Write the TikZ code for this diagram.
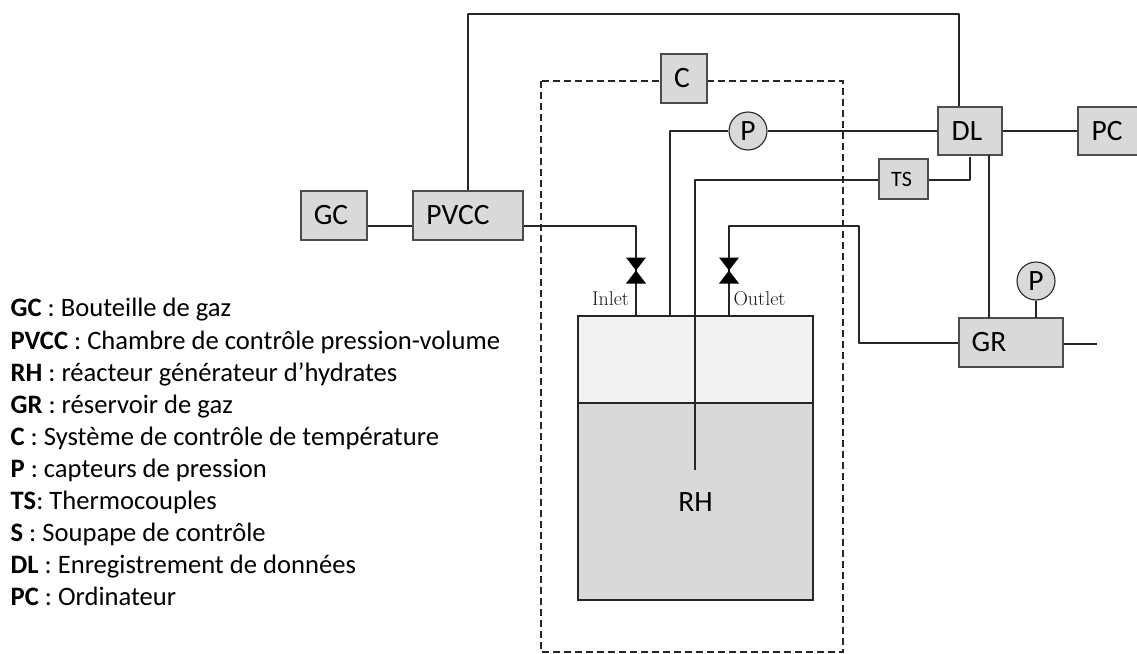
\documentclass[tikz,border=0pt]{standalone}
\usepackage{fontspec}
\setsansfont{Carlito}
\begin{document}
\begin{tikzpicture}[x=1pt,y=-1pt,
  line width=1.3pt,
  wire/.style={draw=black!85,line width=1.3pt,line join=round},
  box/.style={draw=black!70,fill=boxgray,line width=1.1pt,inner sep=0pt,font=\sffamily\fontsize{29.5}{31}\selectfont,text=black},
  gauge/.style={circle,draw=black!85,fill=boxgray,line width=1.1pt,inner sep=0pt,minimum size=38pt,font=\sffamily\fontsize{29.5}{31}\selectfont},
  legend/.style={anchor=base west,inner sep=0pt,font=\sffamily\fontsize{26.6}{28}\selectfont},
  port/.style={inner sep=0pt,font=\rmfamily\fontsize{20}{22}\selectfont,text=black!90},
  valvefill/.style={fill=black,draw=none},
  dashline/.style={draw=black!85,line width=1.1pt,dash pattern=on 7pt off 4pt}]
\definecolor{boxgray}{HTML}{D9D9D9}
\definecolor{gasgray}{HTML}{F2F2F2}
\useasboundingbox (0,0) rectangle (1137,653);
% temperature enclosure
\draw[dashline] (541,81) rectangle (843,652);
% reactor
\node[draw=black!85,fill=gasgray,line width=1.1pt,minimum width=235pt,minimum height=87pt,inner sep=0pt] (gas) at (695.5,359.5) {};
\node[draw=black!85,fill=boxgray,line width=1.1pt,minimum width=235pt,minimum height=197pt,inner sep=0pt] (liq) at (695.5,501.5) {};
\node[inner sep=0pt,font=\sffamily\fontsize{29.5}{31}\selectfont] (rh) at (695.5,502) {RH};
% boxes
\node[box,minimum width=66pt,minimum height=49pt] (gc) at (334,215.5) {GC\rule{6pt}{0pt}};
\node[box,minimum width=110pt,minimum height=49pt] (pvcc) at (468,215.5) {PVCC\rule{20pt}{0pt}};
\node[box,minimum width=46pt,minimum height=49pt] (c) at (684,78.5) {C\rule{4pt}{0pt}};
\node[box,minimum width=64pt,minimum height=48pt] (dl) at (970,131) {DL\rule{6pt}{0pt}};
\node[box,minimum width=62pt,minimum height=48pt] (pc) at (1109,131) {PC\rule{4pt}{0pt}};
\node[box,minimum width=49pt,minimum height=40pt,font=\sffamily\fontsize{22}{24}\selectfont] (ts) at (903.5,179) {TS\rule{4pt}{0pt}};
\node[box,minimum width=104pt,minimum height=49pt] (gr) at (1011,342.5) {GR\rule{44pt}{0pt}};
\node[gauge] (p1) at (748,131) {P};
\node[gauge] (p2) at (1036,281) {P};
% named bends
\coordinate (topr) at (959,14);
\coordinate (inletc) at (636,226);
\coordinate (outletc) at (729,226);
\coordinate (bendo) at (859,226);
\coordinate (bendg) at (859,343);
\coordinate (pbend) at (670,131);
\coordinate (tsbend) at (695,180);
\coordinate (tsend) at (695,470);
\coordinate (dlts) at (970,180);
\coordinate (grout) at (1097,344);
\coordinate (dlgr) at (989,155);
\coordinate (grdl) at (989,318);
\coordinate (grp) at (1036,318);
\coordinate (valvein) at (636,270.5);
\coordinate (valveout) at (729,270.5);
% connectors
\draw[wire] (gc.east |- inletc) -- (pvcc.west |- inletc);
\draw[wire] (pvcc.north) |- (topr) -- (topr |- dl.north);
\draw[wire] (pvcc.east |- inletc) -- (inletc) -- (inletc |- gas.north);
\draw[wire] (dl.west) -- (p1.east);
\draw[wire] (p1.west) -- (pbend) -- (pbend |- gas.north);
\draw[wire] (dl.east) -- (pc.west);
\draw[wire] (ts.west |- tsbend) -- (tsbend) -- (tsend);
\draw[wire] (ts.east |- dlts) -- (dlts) -- ++(0,-23);
\draw[wire] (dlgr) -- (grdl);
\draw[wire] (p2.south) -- (grp);
\draw[wire] (outletc |- gas.north) -- (outletc) -- (bendo) -- (bendg) -- (gr.west |- bendg);
\draw[wire] (gr.east |- grout) -- (grout);
% valves
\fill[valvefill] (valvein) -- ++(-10,-13) -- ++(20,0) -- cycle;
\fill[valvefill] (valvein) -- ++(-10,13) -- ++(20,0) -- cycle;
\fill[valvefill] (valveout) -- ++(-10,-13) -- ++(20,0) -- cycle;
\fill[valvefill] (valveout) -- ++(-10,13) -- ++(20,0) -- cycle;
\node[port] (inlet) at (610.5,299) {Inlet};
\node[port] (outlet) at (759.5,299) {Outlet};
% legend
\node[legend] (l1) at (10,316.7) {\textbf{GC} : Bouteille de gaz};
\node[legend] (l2) at (10,349) {\textbf{PVCC} : Chambre de contrôle pression-volume};
\node[legend] (l3) at (10,381) {\textbf{RH} : réacteur générateur d’hydrates};
\node[legend] (l4) at (10,413) {\textbf{GR} : réservoir de gaz};
\node[legend] (l5) at (10,445) {\textbf{C} : Système de contrôle de température};
\node[legend] (l6) at (10,477) {\textbf{P} : capteurs de pression};
\node[legend] (l7) at (10,509) {\textbf{TS}: Thermocouples};
\node[legend] (l8) at (10,541) {\textbf{S} : Soupape de contrôle};
\node[legend] (l9) at (10,573) {\textbf{DL} : Enregistrement de données};
\node[legend] (l10) at (10,605) {\textbf{PC} : Ordinateur};
\end{tikzpicture}
\end{document}
